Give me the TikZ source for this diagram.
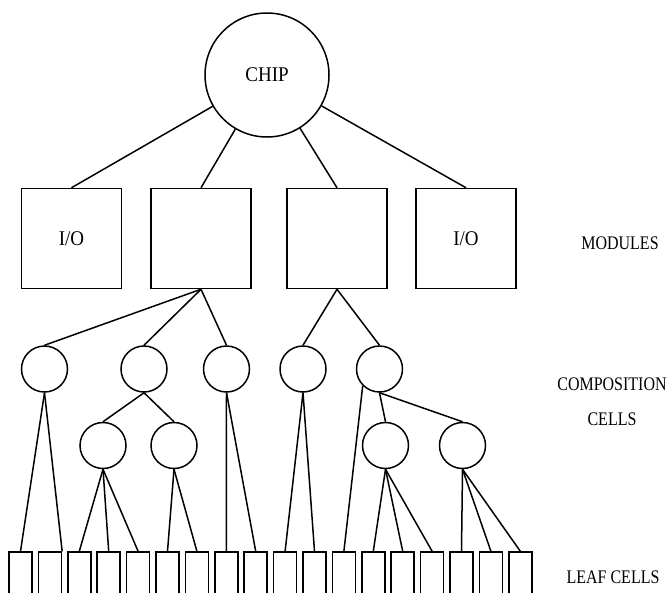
\documentclass[tikz,border=0pt]{standalone}
\usepackage{graphicx}
\usepackage{fontspec}
\setmainfont{Liberation Serif}
\usetikzlibrary{positioning}

\newcommand{\tallword}[2][1.2]{\scalebox{1}[#1]{#2}}

\begin{document}
\begin{tikzpicture}[on grid,line width=1.5pt,
   chipnode/.style={circle,draw,minimum size=124pt,font=\fontsize{19}{21}\selectfont},
   modbox/.style={rectangle,draw,minimum size=100pt,font=\fontsize{19}{21}\selectfont},
   compcell/.style={circle,draw,minimum size=46pt},
   leafcell/.style={rectangle,draw,minimum width=23pt,minimum height=60pt},
   sidelabel/.style={font=\fontsize{16}{18}\selectfont}]
  \useasboundingbox (0,0) rectangle (668pt,-592pt);
  \clip (0,0) rectangle (668pt,-592pt);
  % chip and modules
  \node[chipnode] (chip) at (267pt,-75pt) {\tallword[1.1]{CHIP}};
  \node[modbox] (m1) [below left=163.5pt and 195.5pt of chip] {\tallword[1.1]{I/O}};
  \node[modbox] (m2) [below left=163.5pt and 66pt of chip] {};
  \node[modbox] (m3) [below right=163.5pt and 70pt of chip] {};
  \node[modbox] (m4) [below right=163.5pt and 199pt of chip] {\tallword[1.1]{I/O}};
  % composition cells
  \node[compcell] (c1) [below left=130.5pt and 156.5pt of m2] {};
  \node[compcell] (c2) [below left=130.5pt and 57pt of m2] {};
  \node[compcell] (c3) [below right=130.5pt and 25.5pt of m2] {};
  \node[compcell] (c4) [below left=130.5pt and 34pt of m3] {};
  \node[compcell] (c5) [below right=130.5pt and 42.5pt of m3] {};
  \node[compcell] (c2a) [below left=76.5pt and 41pt of c2] {};
  \node[compcell] (c2b) [below right=76.5pt and 30pt of c2] {};
  \node[compcell] (c5a) [below right=76.5pt and 6pt of c5] {};
  \node[compcell] (c5b) [below right=76.5pt and 83pt of c5] {};
  % leaf cells
  \foreach \i in {1,...,18}
    \node[leafcell] (l\i) at ({20.5pt+29.4pt*(\i-1)},-582pt) {};
  % level names
  \node[sidelabel] (modname) at (620pt,-243pt) {\tallword{MODULES}};
  \node[sidelabel] (compname) at (612pt,-384pt) {\tallword{COMPOSITION}};
  \node[sidelabel] (cellname) [below=35pt of compname] {\tallword{CELLS}};
  \node[sidelabel] (leafname) at (613pt,-577pt) {\tallword{LEAF CELLS}};
  \path
   (chip) edge (m1.north) edge (m2.north) edge (m3.north) edge (m4.north)
   (m2.south) edge (c1.north) edge (c2.north) edge (c3.north)
   (m3.south) edge (c4.north) edge (c5.north)
   (c1.south) edge (l1.north) edge (l2.north east)
   (c2.south) edge (c2a.north) edge (c2b.north)
   (c2a.south) edge (l3.north) edge (l4.north) edge (l5.north)
   (c2b.south) edge (l6.north) edge (l7.north)
   (c3.south) edge (l8.north) edge (l9.north)
   (c4.south) edge (l10.north) edge (l11.north)
   (c5.south west) edge (l12.north)
   (c5.south) edge (c5a.north) edge (c5b.north)
   (c5a.south) edge (l13.north) edge (l14.north) edge (l15.north)
   (c5b.south) edge (l16.north) edge (l17.north) edge (l18.north);
\end{tikzpicture}
\end{document}
